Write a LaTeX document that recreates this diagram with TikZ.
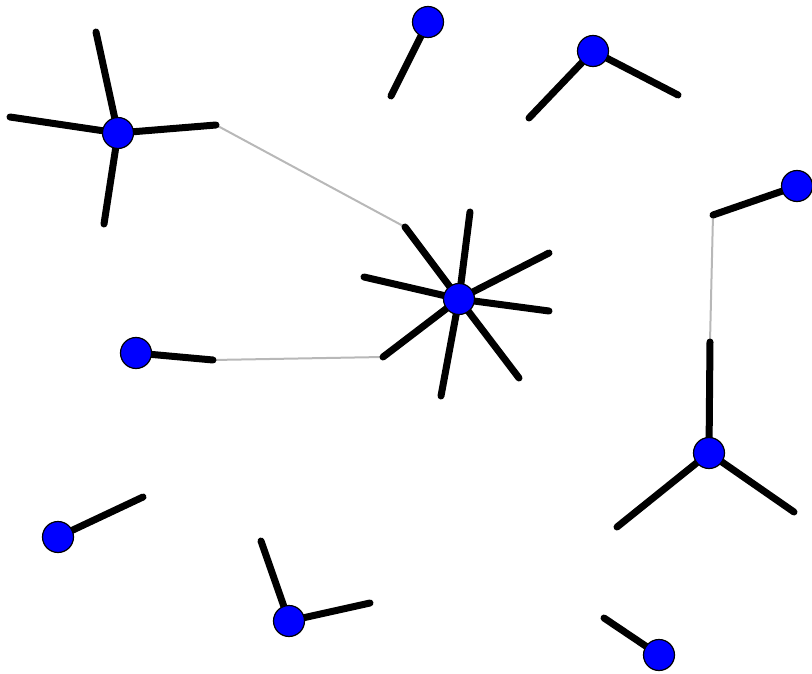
\documentclass[tikz,border=0pt]{standalone}
\usepackage{tikz}
\usetikzlibrary{backgrounds}

\begin{document}
\begin{tikzpicture}[
  x=1pt, y=-1pt,
  vert/.style={circle, draw=black, line width=1.2pt, fill=blue, minimum size=31pt, inner sep=0pt},
  stub/.style={line width=7pt, line cap=round},
  link/.style={line width=2pt, draw=black!28}
]
  \useasboundingbox (0,0) rectangle (812,674);

  \node[vert] (hubA) at (118,133) {};
  \node[vert] (star) at (459,299) {};
  \node[vert] (leafC) at (136,353) {};
  \node[vert] (topD) at (428,22) {};
  \node[vert] (topE) at (593,51) {};
  \node[vert] (edgeF) at (797,186) {};
  \node[vert] (triG) at (709,453) {};
  \node[vert] (lowH) at (58,537) {};
  \node[vert] (lowI) at (289,621) {};
  \node[vert] (lowJ) at (659,655) {};

  % free ends of the stubs
  \coordinate (a1) at (96,32);
  \coordinate (a2) at (10,117);
  \coordinate (a3) at (104,224);
  \coordinate (a4) at (216,125);
  \coordinate (s1) at (405,227);
  \coordinate (s2) at (470,212);
  \coordinate (s3) at (549,253);
  \coordinate (s4) at (549,311);
  \coordinate (s5) at (519,378);
  \coordinate (s6) at (441,396);
  \coordinate (s7) at (383,357);
  \coordinate (s8) at (364,277);
  \coordinate (c1) at (213,360);
  \coordinate (d1) at (391,96);
  \coordinate (e1) at (529,118);
  \coordinate (e2) at (678,95);
  \coordinate (f1) at (713,215);
  \coordinate (g1) at (710,342);
  \coordinate (g2) at (617,527);
  \coordinate (g3) at (794,512);
  \coordinate (h1) at (143,497);
  \coordinate (i1) at (261,541);
  \coordinate (i2) at (370,603);
  \coordinate (j1) at (604,618);

  \begin{scope}[on background layer]
    \draw[link] (a4) -- (s1);
    \draw[link] (c1) -- (s7);
    \draw[link] (f1) -- (g1);
    \foreach \e in {a1,a2,a3,a4} \draw[stub] (hubA.center) -- (\e);
    \foreach \e in {s1,s2,s3,s4,s5,s6,s7,s8} \draw[stub] (star.center) -- (\e);
    \draw[stub] (leafC.center) -- (c1);
    \draw[stub] (topD.center) -- (d1);
    \foreach \e in {e1,e2} \draw[stub] (topE.center) -- (\e);
    \draw[stub] (edgeF.center) -- (f1);
    \foreach \e in {g1,g2,g3} \draw[stub] (triG.center) -- (\e);
    \draw[stub] (lowH.center) -- (h1);
    \foreach \e in {i1,i2} \draw[stub] (lowI.center) -- (\e);
    \draw[stub] (lowJ.center) -- (j1);
  \end{scope}
\end{tikzpicture}
\end{document}
